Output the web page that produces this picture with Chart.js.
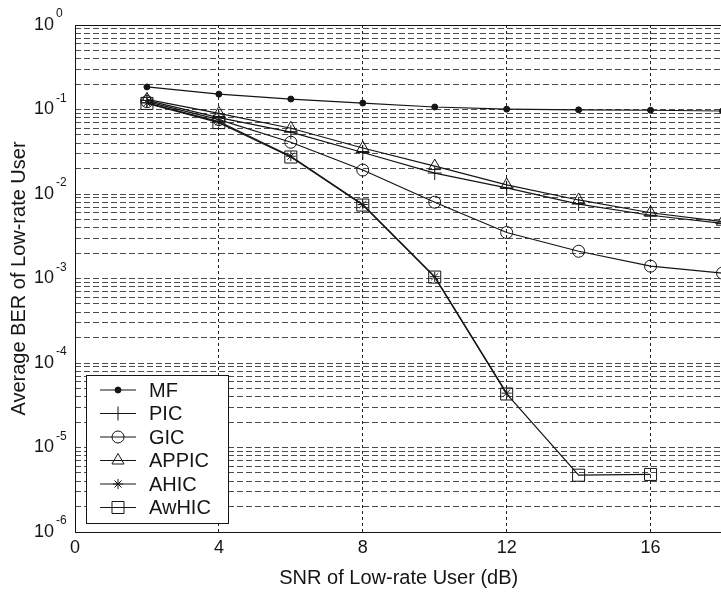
<!DOCTYPE html>
<html>
<head>
<meta charset="utf-8">
<title>Average BER of Low-rate User</title>
<script src="https://cdn.jsdelivr.net/npm/chart.js@4.4.1/dist/chart.umd.min.js"></script>
<style>
    html, body { margin: 0; padding: 0; background: #fff; overflow: hidden; }
    canvas { display: block; }
</style>
</head>
<body>
<canvas id="berChart" width="732" height="593"></canvas>
<script>
// SNR points (dB) and BER per receiver
const snrValues = [2, 4, 6, 8, 10, 12, 14, 16, 18];
const mfBer     = [0.185, 0.152, 0.133, 0.119, 0.107, 0.101, 0.099, 0.098, 0.096];
const picBer    = [0.128, 0.080, 0.054, 0.031, 0.0177, 0.0118, 0.0076, 0.0056, 0.0045];
const gicBer    = [0.124, 0.076, 0.041, 0.0192, 0.0080, 0.0035, 0.0021, 0.0014, 0.00116];
const appicBer  = [0.132, 0.090, 0.060, 0.035, 0.0214, 0.0128, 0.0085, 0.0060, 0.0047];
const ahicBer   = [0.120, 0.072, 0.028, 0.0075, 0.00105, 0.000044, null, null, null];
const awhicBer  = [0.118, 0.070, 0.0274, 0.0074, 0.00104, 0.000043, 0.0000047, 0.0000048, null];

// Axis ticks
const xTickValues = [0, 4, 8, 12, 16];
const decadeExponents = [0, -1, -2, -3, -4, -5, -6];

const FONT = '"Liberation Sans", Arial, sans-serif';
const INK = '#151515';

function toPoints(values) {
    return snrValues.map((x, i) => ({ x: x, y: values[i] })).filter(p => p.y !== null);
}

function series(label, values, pointStyle, radius, filled) {
    return {
        label: label,
        data: toPoints(values),
        borderColor: INK,
        borderWidth: 1.2,
        pointStyle: pointStyle,
        pointRadius: radius,
        pointBackgroundColor: filled ? INK : 'rgba(0,0,0,0)',
        pointBorderColor: INK,
        pointBorderWidth: 1,
        tension: 0,
        fill: false
    };
}

const datasets = [
    series('MF', mfBer, 'circle', 3, true),
    series('PIC', picBer, 'cross', 7, false),
    series('GIC', gicBer, 'circle', 6, false),
    series('APPIC', appicBer, 'triangle', 7, false),
    series('AHIC', ahicBer, 'star', 5, false),
    series('AwHIC', awhicBer, 'rect', 8.5, false)
];

// every 1..9 x 10^k between 1e-6 and 1
const yGridValues = decadeExponents.flatMap(e =>
    [1, 2, 3, 4, 5, 6, 7, 8, 9].map(m => m * Math.pow(10, e))
).filter(v => v <= 1 && v >= 1e-6);

// Frame around the plot (top, left, bottom; right edge is off-page)
const framePlugin = {
    id: 'frame',
    afterDatasetsDraw(chart) {
        const { ctx, chartArea: a } = chart;
        ctx.save();
        ctx.strokeStyle = INK;
        ctx.lineWidth = 1;
        ctx.setLineDash([]);
        ctx.strokeRect(a.left + 0.5, a.top + 0.5, a.right - a.left, a.bottom - a.top);
        ctx.restore();
    }
};

// "10^k" labels on the log axis
const powerLabelsPlugin = {
    id: 'powerLabels',
    afterDraw(chart) {
        const { ctx } = chart;
        const y = chart.scales.y;
        ctx.save();
        ctx.fillStyle = INK;
        decadeExponents.forEach(e => {
            const py = y.getPixelForValue(Math.pow(10, e));
            ctx.font = '18px ' + FONT;
            ctx.textAlign = 'right';
            ctx.textBaseline = 'middle';
            ctx.fillText('10', 54, py);
            ctx.font = '12px ' + FONT;
            ctx.textAlign = 'left';
            ctx.textBaseline = 'alphabetic';
            ctx.fillText(String(e), 56, py - 8);
        });
        ctx.restore();
    }
};

// Boxed legend in the lower-left corner of the plot
const legendPlugin = {
    id: 'boxLegend',
    afterDraw(chart) {
        const { ctx } = chart;
        const box = { left: 86, top: 375, width: 142, height: 148 };
        ctx.save();
        ctx.setLineDash([]);
        ctx.fillStyle = '#fff';
        ctx.fillRect(box.left, box.top, box.width, box.height);
        ctx.strokeStyle = INK;
        ctx.lineWidth = 1;
        ctx.strokeRect(box.left + 0.5, box.top + 0.5, box.width, box.height);

        chart.data.datasets.forEach((ds, i) => {
            const rowY = box.top + 15 + i * 23.5;
            ctx.strokeStyle = INK;
            ctx.lineWidth = 1;
            ctx.beginPath();
            ctx.moveTo(box.left + 14, rowY);
            ctx.lineTo(box.left + 50, rowY);
            ctx.stroke();

            ctx.fillStyle = ds.pointBackgroundColor;
            ctx.strokeStyle = INK;
            Chart.helpers.drawPoint(ctx, {
                pointStyle: ds.pointStyle,
                radius: ds.pointRadius,
                rotation: 0,
                borderWidth: 1
            }, box.left + 32, rowY);

            ctx.fillStyle = INK;
            ctx.font = '20px ' + FONT;
            ctx.textAlign = 'left';
            ctx.textBaseline = 'middle';
            ctx.fillText(ds.label, box.left + 63, rowY + 1);
        });
        ctx.restore();
    }
};

new Chart(document.getElementById('berChart').getContext('2d'), {
    type: 'line',
    data: { datasets: datasets },
    options: {
        responsive: false,
        animation: false,
        layout: { padding: { top: 25, right: 6, bottom: 0, left: 0 } },
        plugins: {
            legend: { display: false },
            tooltip: { enabled: false }
        },
        scales: {
            x: {
                type: 'linear',
                min: 0,
                max: 18,
                afterBuildTicks: s => { s.ticks = xTickValues.map(v => ({ value: v })); },
                afterFit: s => { s.height = 61; },
                grid: {
                    color: ctx => (ctx.tick && ctx.tick.value === 0) ? 'rgba(0,0,0,0)' : '#222',
                    lineWidth: 1,
                    drawTicks: false
                },
                border: { display: false, dash: [3, 3] },
                ticks: {
                    color: INK,
                    font: { family: FONT, size: 18 },
                    padding: 5,
                    maxRotation: 0,
                    autoSkip: false
                },
                title: {
                    display: true,
                    text: 'SNR of Low-rate User (dB)',
                    color: INK,
                    font: { family: FONT, size: 20 },
                    padding: { top: 0, bottom: 3 }
                }
            },
            y: {
                type: 'logarithmic',
                min: 1e-6,
                max: 1,
                afterBuildTicks: s => { s.ticks = yGridValues.map(v => ({ value: v })); },
                afterFit: s => { s.width = 75; },
                grid: { color: 'rgba(0,0,0,0.7)', lineWidth: 1, drawTicks: false },
                border: { display: false, dash: [6, 3] },
                ticks: { display: false },
                title: {
                    display: true,
                    text: 'Average BER of Low-rate User',
                    color: INK,
                    font: { family: FONT, size: 20 },
                    padding: { top: 7, bottom: 0 }
                }
            }
        }
    },
    plugins: [framePlugin, powerLabelsPlugin, legendPlugin]
});
</script>
</body>
</html>
